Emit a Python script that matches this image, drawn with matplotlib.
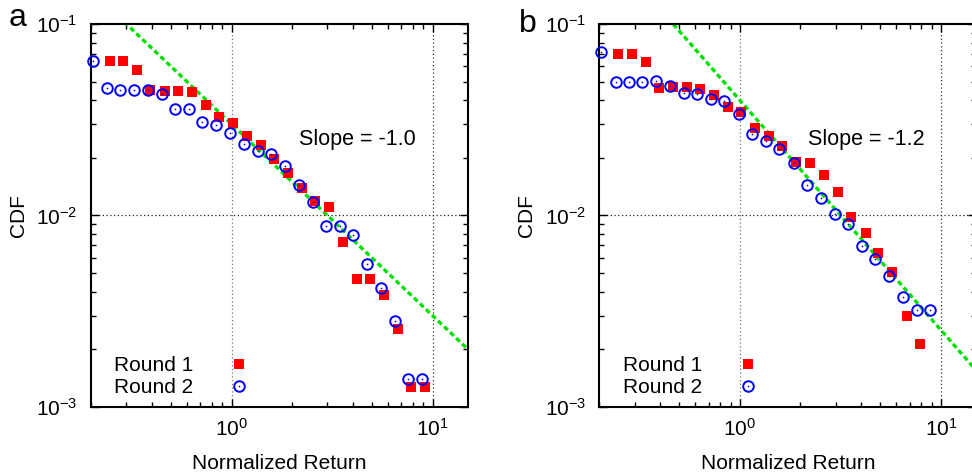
import numpy as np
import matplotlib
matplotlib.use("Agg")
from matplotlib import pyplot as plt
from matplotlib.ticker import LogLocator, NullFormatter

# panel a
a_r1_x = [0.248, 0.289, 0.339, 0.395, 0.467, 0.542, 0.637, 0.745, 0.868, 1.018, 1.196, 1.404,
          1.629, 1.912, 2.245, 2.597, 3.059, 3.592, 4.217, 4.893, 5.724, 6.745, 7.825, 9.189]
a_r1_y = [0.0641, 0.0641, 0.0577, 0.0452, 0.0445, 0.0445, 0.0440, 0.0378, 0.0326, 0.0303, 0.0261, 0.0234,
          0.0198, 0.0166, 0.0140, 0.0119, 0.01104, 0.00725, 0.00464, 0.00464, 0.00383, 0.00254, 0.00127, 0.00127]
a_r2_x = [0.205, 0.240, 0.279, 0.328, 0.383, 0.450, 0.524, 0.613, 0.717, 0.838, 0.984, 1.151, 1.347,
          1.574, 1.848, 2.154, 2.529, 2.945, 3.457, 4.027, 4.727, 5.532, 6.494, 7.560, 8.848]
a_r2_y = [0.0641, 0.0463, 0.0451, 0.0451, 0.0451, 0.0433, 0.0361, 0.0361, 0.0307, 0.0296, 0.0271, 0.0237, 0.0218,
          0.0210, 0.0182, 0.0144, 0.0117, 0.00885, 0.00885, 0.00794, 0.00558, 0.00420, 0.00280, 0.00140, 0.00140]

# panel b
b_r1_x = [0.248, 0.291, 0.340, 0.397, 0.464, 0.545, 0.635, 0.743, 0.872, 1.015, 1.191, 1.399,
          1.612, 1.899, 2.230, 2.627, 3.063, 3.566, 4.236, 4.876, 5.724, 6.752, 7.889]
b_r1_y = [0.0695, 0.0695, 0.0633, 0.0463, 0.0467, 0.0467, 0.0456, 0.0426, 0.0367, 0.0346, 0.0287, 0.0260,
          0.0232, 0.0190, 0.0187, 0.0162, 0.0132, 0.00986, 0.00807, 0.00639, 0.00509, 0.00298, 0.00213]
b_r2_x = [0.204, 0.241, 0.280, 0.328, 0.382, 0.447, 0.527, 0.611, 0.720, 0.835, 0.985, 1.151, 1.347,
          1.569, 1.850, 2.154, 2.529, 2.959, 3.445, 4.032, 4.711, 5.532, 6.451, 7.570, 8.848]
b_r2_y = [0.0717, 0.0498, 0.0498, 0.0498, 0.0502, 0.0476, 0.0435, 0.0433, 0.0406, 0.0396, 0.0339, 0.0268, 0.0246,
          0.0223, 0.0188, 0.0145, 0.0123, 0.0102, 0.00903, 0.00696, 0.00590, 0.00481, 0.00375, 0.00322, 0.00322]

# power-law guide lines: y = c * x^slope
a_fit = (0.030, -1.0)
b_fit = (0.040, -1.2)

plt.rcParams['font.family'] = ['Liberation Sans', 'DejaVu Sans']
plt.rcParams['mathtext.fontset'] = 'custom'
plt.rcParams['mathtext.rm'] = 'Liberation Sans'
plt.rcParams['mathtext.default'] = 'regular'
plt.rcParams['font.size'] = 15

W, H = 972, 476
fig = plt.figure(figsize=(W / 100, H / 100), dpi=100)
ax_a = fig.add_axes([91 / W, 1 - 407 / H, 377 / W, 383 / H])
ax_b = fig.add_axes([599.3 / W, 1 - 407 / H, 377 / W, 383 / H])


def draw_panel(ax, r1x, r1y, r2x, r2y, fit, letter, letter_xy):
    ax.set_xscale('log')
    ax.set_yscale('log')
    ax.set_xlim(0.2, 15)
    ax.set_ylim(1e-3, 1e-1)

    xs = np.logspace(np.log10(0.2), np.log10(15), 200)
    ax.plot(xs, fit[0] * xs ** fit[1], color='#00e000', lw=2.4,
            linestyle=(0, (1.5, 1.0)), zorder=2)

    sq, = ax.plot(r1x, r1y, 's', color='#ff0000', ms=7.7, mew=0, zorder=3, clip_on=False)
    ci, = ax.plot(r2x, r2y, 'o', mfc='none', mec='#0000ff', ms=7.6, mew=1.4, zorder=4, clip_on=False)
    dot, = ax.plot(r2x, r2y, 'o', color='#0000ff', ms=1.2, mew=0, zorder=4, clip_on=False)

    ax.axvline(1, color='#777777', lw=0.9, ls=(0, (1, 2)), zorder=1)
    ax.axvline(10, color='#333333', lw=0.9, ls=(0, (1, 2)), zorder=1)
    ax.axhline(1e-2, color='#222222', lw=0.9, ls=(0, (1, 2)), zorder=1)

    ax.xaxis.set_major_locator(LogLocator(base=10, numticks=10))
    ax.xaxis.set_minor_locator(LogLocator(base=10, subs=np.arange(2, 10), numticks=20))
    ax.yaxis.set_minor_locator(LogLocator(base=10, subs=np.arange(2, 10), numticks=20))
    ax.xaxis.set_minor_formatter(NullFormatter())
    ax.yaxis.set_minor_formatter(NullFormatter())
    ax.tick_params(which='both', direction='in', top=True, right=True, width=1.0)
    ax.tick_params(which='major', length=5.8)
    ax.tick_params(which='minor', length=3.6)
    ax.tick_params(axis='y', which='major', pad=9.5)
    ax.tick_params(axis='x', which='major', pad=8)
    for s in ax.spines.values():
        s.set_linewidth(1.5)

    ax.set_xlabel("Normalized Return", labelpad=10)
    ax.set_ylabel("CDF", labelpad=6)

    slope_txt = "Slope = %.1f" % fit[1]
    ax.text(0.5525, 0.699, slope_txt, transform=ax.transAxes, ha='left', va='center',
            fontsize=15.5)

    ax.legend([sq, (ci, dot)], ['Round 1', 'Round 2'], loc='lower left',
              bbox_to_anchor=(0.023, -0.013), frameon=False, markerfirst=False,
              handlelength=2.0, handletextpad=1.2, labelspacing=0.16, borderpad=0.2)

    fig.text(letter_xy[0] / W, 1 - letter_xy[1] / H, letter, fontsize=23,
             ha='left', va='baseline')


draw_panel(ax_a, a_r1_x, a_r1_y, a_r2_x, a_r2_y, a_fit, 'a', (9, 26))
draw_panel(ax_b, b_r1_x, b_r1_y, b_r2_x, b_r2_y, b_fit, 'b', (519, 32))

fig.savefig("out.png", dpi=100)
